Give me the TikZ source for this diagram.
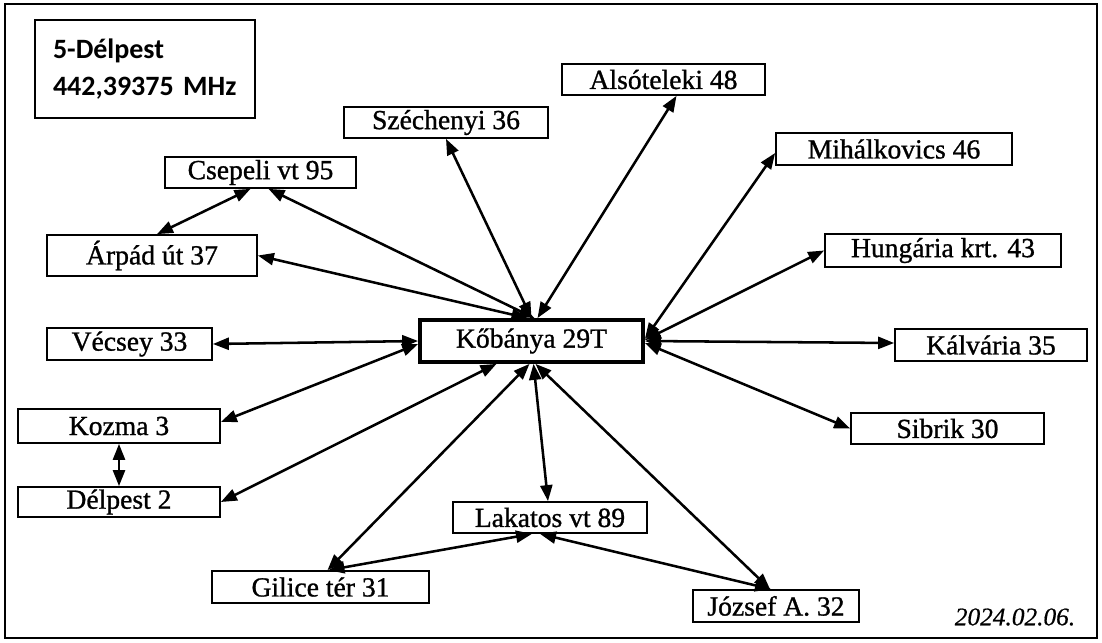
\documentclass[tikz,border=0pt]{standalone}
\usepackage{fontspec}
\setmainfont{Liberation Serif}
\newfontfamily\boxfont{Liberation Serif}[FakeBold=1.0]
\newfontfamily\datefont{Liberation Serif Italic}[FakeBold=0.6]
\newfontfamily\carlfont{Carlito}
\usetikzlibrary{arrows.meta,calc}
\begin{document}
\begin{tikzpicture}[x=0.75pt,y=-0.75pt,
  stn/.style={draw, fill=white, line width=1.3pt, inner sep=0pt, font=\boxfont\fontsize{20.7}{24}\selectfont},
  hub/.style={stn, line width=2.8pt},
  tip/.tip={Triangle[length=12pt,width=9pt]},
  link/.style={line width=1.9pt, tip-tip},
]
\useasboundingbox (0,0) rectangle (1102,642);
\draw[line width=1.6pt] (5,4) rectangle (1097,638);

\node[draw, line width=1.3pt, inner sep=0pt, minimum width=165pt, minimum height=73.5pt,
      align=left, text width=138pt, font=\carlfont\bfseries\fontsize{21}{27.75}\selectfont]
      (title) at (145,69) {5-Délpest\\442,39375 MHz};

\node[stn, minimum width=143.25pt, minimum height=23.25pt] (csep) at (260.5,172.5) {Csepeli vt 95};
\node[stn, minimum width=157.5pt, minimum height=30.75pt] (arpad) at (152,255.5) {Árpád út 37};
\node[stn, minimum width=153pt, minimum height=23.25pt] (szech) at (446,122.5) {Széchenyi 36};
\node[stn, minimum width=152.25pt, minimum height=23.25pt] (also) at (663.5,79.5) {Alsóteleki 48};
\node[stn, minimum width=177pt, minimum height=24pt] (mihal) at (894,149) {Mihálkovics 46};
\node[stn, minimum width=177pt, minimum height=24.75pt] (hung) at (943,250.5) {Hungária krt. 43};
\node[hub, minimum width=167.25pt, minimum height=31.5pt] (kob) at (531.5,341) {Kőbánya 29T};
\node[stn, minimum width=123.75pt, minimum height=24pt] (vecs) at (129.5,344) {Vécsey 33};
\node[stn, minimum width=144pt, minimum height=24pt] (kalv) at (991,345) {Kálvária 35};
\node[stn, minimum width=151.5pt, minimum height=25.5pt] (kozma) at (119,426) {Kozma 3};
\node[stn, minimum width=144.75pt, minimum height=23.25pt] (sibrik) at (947.5,428.5) {Sibrik 30};
\node[stn, minimum width=151.5pt, minimum height=22.5pt] (delp) at (119,502) {Délpest 2};
\node[stn, minimum width=145.5pt, minimum height=23.25pt] (lak) at (550,517.5) {Lakatos vt 89};
\node[stn, minimum width=162.75pt, minimum height=24pt] (gil) at (320.5,587) {Gilice tér 31};
\node[stn, minimum width=124.5pt, minimum height=24pt] (jozs) at (776,606) {József A. 32};
\node[font=\datefont\fontsize{19}{22}\selectfont, inner sep=0pt] (date) at (1015,617) {2024.02.06.};

% hub links
\draw[link] ($(kob.north)+(3,0)$) -- ($(csep.south)+(8,0)$);
\draw[link] ($(kob.north)+(-4,0)$) -- (arpad.east);
\draw[link] ($(kob.north)+(0,0)$) -- (szech.south);
\draw[link] ($(kob.north)+(6,0)$) -- ($(also.south)+(13,0)$);
\draw[link] ($(kob.east)+(0,-2)$) -- ($(mihal.west)+(0,4)$);
\draw[link] ($(kob.east)+(0,-1)$) -- (hung.west);
\draw[link] ($(kob.east)+(0,0)$) -- ($(kalv.west)+(0,-2)$);
\draw[link] ($(kob.east)+(0,2)$) -- (sibrik.west);
\draw[link] ($(kob.south)+(4,0)$) -- ($(jozs.north)+(-6,0)$);
\draw[link] ($(kob.south)+(2,0)$) -- ($(lak.north)+(-2,0)$);
\draw[link] ($(kob.south)+(-2,0)$) -- ($(gil.north)+(7,0)$);
\draw[link] ($(kob.south)+(-35,0)$) -- (delp.east);
\draw[link] (kob.west) -- (vecs.east);
\draw[link] ($(kob.west)+(0,3)$) -- ($(kozma.east)+(0,-4)$);

% other links
\draw[link] ($(csep.south)+(-10,0)$) -- ($(arpad.north)+(5,0)$);
\draw[link] (kozma.south) -- (delp.north);
\draw[link] ($(lak.south)+(-18,0)$) -- ($(gil.north)+(8,0)$);
\draw[link] ($(lak.south)+(-10,0)$) -- ($(jozs.north)+(-5,0)$);
\end{tikzpicture}
\end{document}
